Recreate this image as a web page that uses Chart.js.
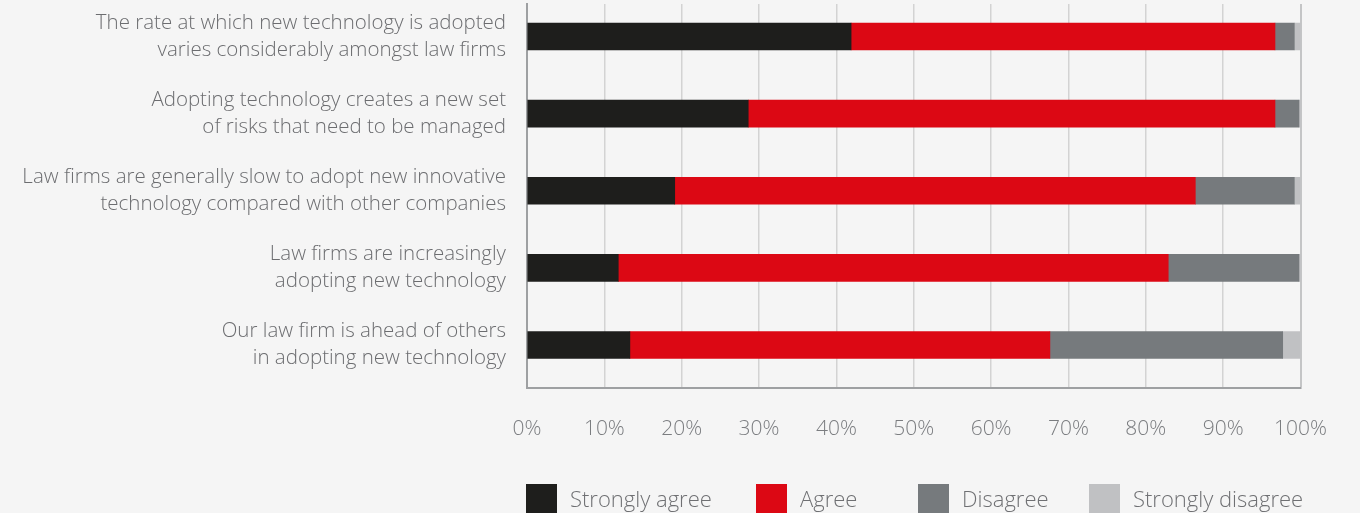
<!DOCTYPE html>
<html>
<head>
<meta charset="utf-8">
<script src="https://cdn.jsdelivr.net/npm/chart.js@4/dist/chart.umd.min.js"></script>
<style>
  html, body { margin: 0; padding: 0; background: #f5f5f5; }
  #wrap { position: relative; width: 1360px; height: 513px; overflow: hidden; }
  #chart { display: block; }
  #legend {
    position: absolute; top: 484px;
    display: flex; justify-content: flex-start;
    font-family: "Open Sans", sans-serif; font-weight: 300; font-size: 22px;
    color: #6f7073; white-space: nowrap;
  }
  .item { display: flex; align-items: center; height: 30px; flex: none; }
  .item:nth-child(1) { width: 230px; }
  .item:nth-child(2) { width: 162px; }
  .item:nth-child(3) { width: 171px; }
  .item span.t { position: relative; top: -1px; }
  .sw { width: 31px; height: 30px; margin-right: 13px; flex: none; }
</style>
</head>
<body>
<div id="wrap">
  <canvas id="chart" width="1360" height="513"></canvas>
  <div id="legend"></div>
</div>
<script>
// Survey statements (top to bottom)
const categories = [
  ["The rate at which new technology is adopted", "varies considerably amongst law firms"],
  ["Adopting technology creates a new set", "of risks that need to be managed"],
  ["Law firms are generally slow to adopt new innovative", "technology compared with other companies"],
  ["Law firms are increasingly", "adopting new technology"],
  ["Our law firm is ahead of others", "in adopting new technology"]
];

// Share of respondents (%) per answer
const stronglyAgree    = [41.9, 28.6, 19.1, 11.8, 13.3];
const agree            = [54.8, 68.1, 67.3, 71.1, 54.3];
const disagree         = [2.5, 3.1, 12.8, 16.9, 30.1];
const stronglyDisagree = [0.8, 0.2, 0.8, 0.2, 2.3];

const seriesNames = ["Strongly agree", "Agree", "Disagree", "Strongly disagree"];
const seriesColors = ["#1e1e1c", "#dc0814", "#767a7d", "#c0c1c3"];
const xTicks = [0, 10, 20, 30, 40, 50, 60, 70, 80, 90, 100];

const FONT = "'Open Sans', sans-serif";
const seriesValues = [stronglyAgree, agree, disagree, stronglyDisagree];

const datasets = seriesValues.map((vals, s) => ({
  label: seriesNames[s],
  data: vals.map((v, i) => ({ x: v, y: i })),
  backgroundColor: seriesColors[s],
  borderWidth: 0,
  barThickness: 27
}));

// HTML legend aligned with the plot area
const legendEl = document.getElementById('legend');
seriesNames.forEach((name, s) => {
  const it = document.createElement('div');
  it.className = 'item';
  const sw = document.createElement('span');
  sw.className = 'sw';
  sw.style.background = seriesColors[s];
  const tx = document.createElement('span');
  tx.className = 't';
  tx.textContent = name;
  it.appendChild(sw); it.appendChild(tx);
  legendEl.appendChild(it);
});

const legendPlacer = {
  id: 'legendPlacer',
  afterRender(chart) {
    legendEl.style.left = (chart.chartArea.left - 1) + 'px';
  }
};

new Chart(document.getElementById('chart'), {
  type: 'bar',
  data: { datasets },
  plugins: [legendPlacer],
  options: {
    indexAxis: 'y',
    responsive: false,
    animation: false,
    layout: { padding: { top: 4, right: 59.5, bottom: 0, left: 0 } },
    plugins: { legend: { display: false }, tooltip: { enabled: false } },
    scales: {
      x: {
        type: 'linear',
        stacked: true,
        min: 0, max: 100,
        afterBuildTicks(scale) { scale.ticks = xTicks.map(v => ({ value: v })); },
        afterFit(scale) { scale.height = 125; scale.paddingLeft = 0; scale.paddingRight = 0; },
        grid: {
          drawTicks: false,
          color: ctx => (ctx.tick && ctx.tick.value === 100) ? '#c4c5c6' : '#d3d3d3',
          lineWidth: ctx => (ctx.tick && ctx.tick.value === 100) ? 2 : 1.5
        },
        border: { display: true, color: '#9ea0a2', width: 2 },
        ticks: {
          padding: 28,
          color: '#7b7d80',
          font: { family: FONT, size: 21, weight: 300 },
          callback: v => v + '%'
        }
      },
      y: {
        type: 'linear',
        stacked: true,
        reverse: true,
        offset: false,
        min: -0.421, max: 4.558,
        afterBuildTicks(scale) { scale.ticks = categories.map((c, i) => ({ value: i })); },
        afterFit(scale) { scale.width = 527; scale.paddingTop = 0; scale.paddingBottom = 0; },
        grid: { display: false, drawTicks: false },
        border: { display: true, color: '#9ea0a2', width: 2 },
        ticks: {
          padding: 21,
          color: '#6c6d70',
          font: { family: FONT, size: 20.5, weight: 300, lineHeight: 1.32 },
          callback: (v) => categories[v] || ''
        }
      }
    }
  }
});
</script>
</body>
</html>
